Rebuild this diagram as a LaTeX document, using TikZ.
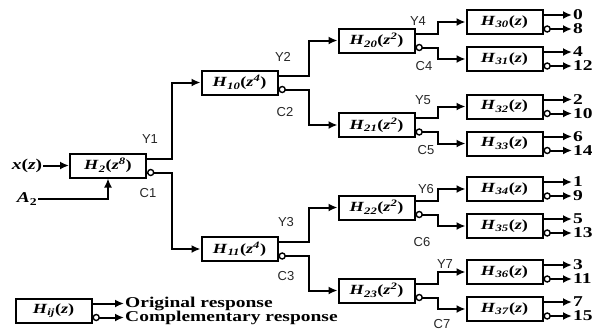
\documentclass[tikz,border=0pt]{standalone}
\usepackage{fontspec}
\setmainfont{Liberation Serif}[FakeStretch=1.3]
\setsansfont{Liberation Sans}
\usetikzlibrary{arrows.meta}

\newcommand{\filt}[2]{\textbf{\textit{H}\textsubscript{\textit{#1}}(\textit{#2})}}

\begin{document}
\begin{tikzpicture}[x=1pt,y=-1pt]

	\tikzstyle filter=[draw, line width=2pt, minimum width=76pt, minimum height=24pt, inner sep=0pt, font=\fontsize{14}{16}\selectfont];
	\tikzstyle signal=[line width=2pt, -{Latex[length=9pt,width=8pt]}];
	\tikzstyle compl=[draw, circle, line width=1.4pt, fill=white, inner sep=0pt, minimum size=6pt, anchor=west];
	\tikzstyle outlabel=[anchor=west, inner sep=1pt, font=\fontsize{15}{16}\selectfont\bfseries];
	\tikzstyle handnote=[font=\fontsize{13}{14}\sffamily, text=black!85];

	\useasboundingbox (0,0) rectangle (592,333);

	% input stage
	\node[filter] (H2) at (108,165.5) {\filt{2}{z\textsuperscript{8}}};
	\node[outlabel, anchor=center] (xz) at (27,165.5) {\textit{x}(\textit{z})};
	\node[outlabel, anchor=center] (A2) at (27,199) {\textit{A}\textsubscript{2}};
	\draw[signal] (xz) -- (H2);
	\draw[signal] (A2.east) -| (H2.south);

	% second and third stage
	\node[filter] (H10) at (239.5,82.5) {\filt{10}{z\textsuperscript{4}}};
	\node[filter] (H11) at (239.5,249) {\filt{11}{z\textsuperscript{4}}};
		\foreach \name/\y in {20/40.5,21/125,22/207.5,23/290.5}
			\node[filter] (H\name) at (376.5,\y) {\filt{\name}{z\textsuperscript{2}}};

	% last stage with outputs
		\foreach \name/\y/\up/\dn in {30/22/0/8,31/59/4/12,32/106.5/2/10,33/143.5/6/14,34/189/1/9,35/226/5/13,36/272/3/11,37/309/7/15}
		{
			\node[filter] (H\name) at (504.5,\y) {\filt{\name}{z}};
			\node[outlabel] (o\up) at (572,\y-7) {\up};
			\node[outlabel] (o\dn) at (572,\y+7) {\dn};
			\draw[signal] ([yshift=7pt]H\name.east) -- (o\up.west);
			\draw[signal] ([yshift=-7pt]H\name.east) node[compl] (c\name) {} -- (o\dn.west);
		}

	% tree connections
		\foreach \p/\a/\b/\d in {2/10/11/25,10/20/21/30,11/22/23/30,20/30/31/22,21/32/33/22,22/34/35/22,23/36/37/22}
		{
			\draw[signal] ([yshift=7pt]H\p.east) -- ++(\d,0) |- (H\a.west);
			\draw[signal] ([yshift=-7pt]H\p.east) node[compl] (c\p) {} -- ++(\d,0) |- (H\b.west);
		}

	% handwritten notes
		\foreach \txt/\x/\y in {Y1/150/139,C1/148/193,Y2/283/57,C2/285/112,Y3/286/222,C3/286/276,Y4/418/21,C4/424/66,Y5/423/100,C5/426/150,Y6/426/189,C6/422/242,Y7/445/264,C7/442/324}
			\node[handnote] (n\txt) at (\x,\y) {\txt};

	% legend
	\node[filter] (Hij) at (53.5,310.5) {\filt{ij}{z}};
	\node[outlabel] (orig) at (124,303.5) {Original response};
	\node[outlabel] (comp) at (124,317.5) {Complementary response};
	\draw[signal] ([yshift=7pt]Hij.east) -- (orig.west);
	\draw[signal] ([yshift=-7pt]Hij.east) node[compl] (cij) {} -- (comp.west);

\end{tikzpicture}
\end{document}
